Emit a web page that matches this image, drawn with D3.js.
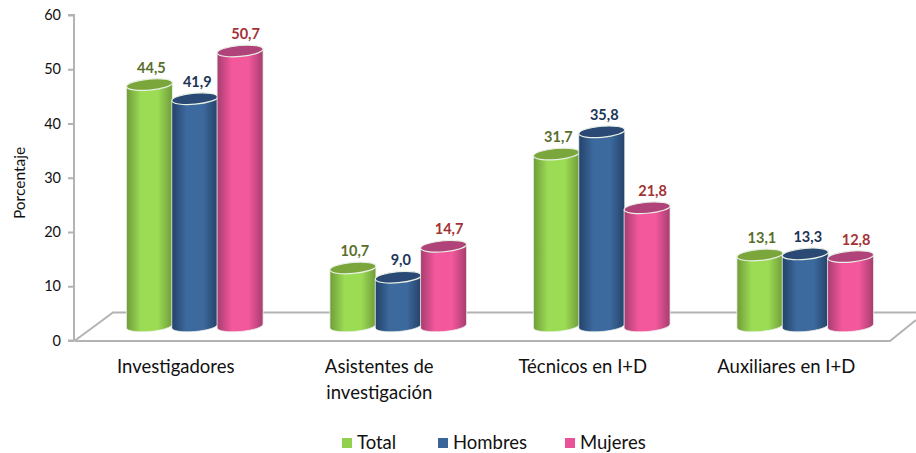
<!DOCTYPE html>
<html><head><meta charset="utf-8">
<script src="https://cdn.jsdelivr.net/npm/d3@7"></script>
<style>html,body{margin:0;padding:0;background:#fff;overflow:hidden}svg{display:block}text{font-family:Lato,"Open Sans",sans-serif}</style>
</head><body><div id="c"></div>
<script>
const categories = [["Investigadores"],["Asistentes de","investigación"],["Técnicos en I+D"],["Auxiliares en I+D"]];
const seriesNames = ["Total","Hombres","Mujeres"];
const total = [44.5,10.7,31.7,13.1];
const hombres = [41.9,9.0,35.8,13.3];
const mujeres = [50.7,14.7,21.8,12.8];
const yTicks = [0,10,20,30,40,50,60];
const seriesValues = [total,hombres,mujeres];
const palette = [
 {id:"g",edge:"#6f9c38",mid:"#9cdc55",top:"#7aa63c",label:"#5a6e2c",key:"#92d050"},
 {id:"b",edge:"#234269",mid:"#3d6a9e",top:"#2a4a75",label:"#1c3557",key:"#3a6599"},
 {id:"p",edge:"#a53d70",mid:"#f4589c",top:"#b0447a",label:"#a33234",key:"#ea5297"}
];
const W=916,H=453;
const svg=d3.select("#c").append("svg").attr("width",W).attr("height",H);
const defs=svg.append("defs");
palette.forEach(p=>{
  const g=defs.append("linearGradient").attr("id","grad-"+p.id);
  [[0,p.edge],[.32,p.mid],[.68,p.mid],[1,p.edge]].forEach(s=>g.append("stop").attr("offset",s[0]).attr("stop-color",s[1]));
});
const y=d3.scaleLinear().domain([0,60]).range([340.5,15]);
const xFront=d3.scaleBand().domain(d3.range(4)).range([74,888]);
const xBars=d3.scaleBand().domain(d3.range(4)).range([93,907]);
const xSeries=d3.scaleBand().domain(d3.range(3)).range([0,136]);
const depthY=14.5, rx=23, ry=5.5, tilt=-5, dy=2;
const labelDx=[2,2.5,5.5];

// floor
const floor=svg.append("g").attr("fill","none").attr("stroke","#b3b3b3").attr("stroke-width",2);
floor.append("path").attr("d",`M75 ${y(0)}L113 312.5L916 312.5`);
floor.append("path").attr("d",`M75 ${y(0)+0.5}L890 ${y(0)+0.5}L916 320`);

// axis
const ax=svg.append("g").attr("transform","translate(74,0)")
  .call(d3.axisLeft(y).tickValues(yTicks).tickSize(6).tickPadding(7));
ax.selectAll("path,line").attr("stroke","#b3b3b3").attr("stroke-width",2);
ax.select(".domain").attr("d",`M-6 ${y(60)}H0V${y(0)}H-6`);
ax.selectAll("text").attr("font-size",14.5).attr("fill","#111");
svg.append("text").attr("transform","translate(25,183) rotate(-90)").attr("text-anchor","middle").attr("font-size",15.5).attr("fill","#111").text("Porcentaje");

// bars
const barCx=(c,s)=>xBars(c)+(xBars.bandwidth()-136)/2+xSeries(s)+xSeries.bandwidth()/2;
seriesValues.forEach((vals,s)=>{
  const p=palette[s];
  const g=svg.append("g");
  vals.forEach((v,c)=>{
    const cx=barCx(c,s);
    const top=y(v)-depthY, base=y(0)-depthY;
    const L=cx-rx,R=cx+rx;
    g.append("path")
     .attr("d",`M${L} ${top+dy}L${L} ${base+dy}A${rx} ${ry} ${tilt} 0 0 ${R} ${base-dy}L${R} ${top-dy}Z`)
     .attr("fill",`url(#grad-${p.id})`).attr("stroke","#eef2ee").attr("stroke-width",.8);
    g.append("path")
     .attr("d",`M${L} ${top+dy}A${rx} ${ry} ${tilt} 1 1 ${R} ${top-dy}A${rx} ${ry} ${tilt} 1 1 ${L} ${top+dy}Z`)
     .attr("fill",p.top).attr("stroke","#e8efe4").attr("stroke-width",1.2);
  });
});
// value labels
seriesValues.forEach((vals,s)=>{
  vals.forEach((v,c)=>{
    svg.append("text").attr("x",barCx(c,s)+labelDx[s]).attr("y",y(v)-depthY-17).attr("dy",".35em")
      .attr("text-anchor","middle").attr("font-size",14.5).attr("font-weight",700)
      .attr("fill",palette[s].label).text(v.toFixed(1).replace(".",","));
  });
});
// category labels
categories.forEach((lines,c)=>{
  const t=svg.append("text").attr("text-anchor","middle").attr("font-size",18.5).attr("fill","#111");
  lines.forEach((l,i)=>t.append("tspan").attr("x",xFront(c)+xFront.bandwidth()/2).attr("y",373+i*26).text(l));
});
// legend
const legendX=[342,438,565];
seriesNames.forEach((n,i)=>{
  svg.append("rect").attr("x",legendX[i]).attr("y",438).attr("width",10).attr("height",10).attr("fill",palette[i].key);
  svg.append("text").attr("x",legendX[i]+15).attr("y",449).attr("font-size",18.5).attr("fill","#111").text(n);
});
</script></body></html>
